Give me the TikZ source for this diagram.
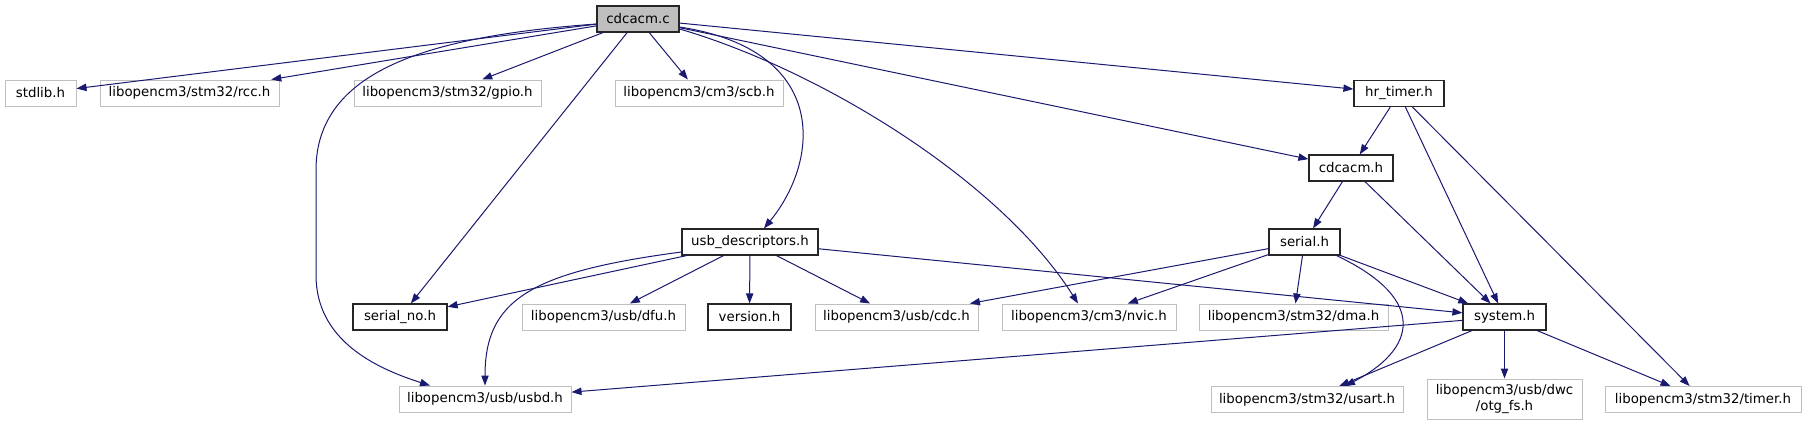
\documentclass[tikz,border=0pt]{standalone}
\usepackage{fontspec}
\setmainfont{DejaVu Sans}
\usetikzlibrary{arrows.meta,calc}
\definecolor{grey75}{HTML}{BFBFBF}
\definecolor{edgeblue}{HTML}{191970}

\begin{document}
\begin{tikzpicture}[x=0.75pt,y=-0.75pt,
font=\fontsize{10}{12.5}\selectfont,
box/.style={draw,line width=0.75pt,inner sep=0pt,minimum height=19.5pt,align=center},
ext/.style={box,draw=grey75},
doc/.style={box,draw=black!85,line width=0.9pt},
root/.style={box,draw=black!85,line width=0.9pt,fill=grey75},
bw/.style={minimum width=#1*0.75pt},
arr/.style={-{Triangle[length=7.5pt,width=5.5pt]},draw=edgeblue,line width=0.75pt}]
\useasboundingbox (0,0) rectangle (1806,425);
\node[root,bw=82] (cdcacmc) at (638,19) {cdcacm.c};
\node[ext,bw=71] (stdlib) at (40.5,93) {stdlib.h};
\node[ext,bw=179] (rcc) at (189.5,93) {libopencm3/stm32/rcc.h};
\node[ext,bw=187] (gpio) at (447.5,93) {libopencm3/stm32/gpio.h};
\node[ext,bw=168] (scb) at (699,93) {libopencm3/cm3/scb.h};
\node[doc,bw=90] (hrtimer) at (1399,93.5) {hr\_timer.h};
\node[doc,bw=84] (cdcacmh) at (1351,168) {cdcacm.h};
\node[doc,bw=71] (serial) at (1304.5,242) {serial.h};
\node[doc,bw=136] (usbdesc) at (750,242) {usb\_descriptors.h};
\node[doc,bw=94] (serialno) at (400,317) {serial\_no.h};
\node[ext,bw=163] (dfu) at (603.5,317) {libopencm3/usb/dfu.h};
\node[doc,bw=83] (version) at (749.5,317) {version.h};
\node[ext,bw=163] (cdc) at (896.5,317) {libopencm3/usb/cdc.h};
\node[ext,bw=174] (nvic) at (1089,317) {libopencm3/cm3/nvic.h};
\node[ext,bw=189] (dma) at (1293.5,317) {libopencm3/stm32/dma.h};
\node[doc,bw=83] (system) at (1504.5,317) {system.h};
\node[ext,bw=172] (usbd) at (485,399) {libopencm3/usb/usbd.h};
\node[ext,bw=192] (usart) at (1307,399.5) {libopencm3/stm32/usart.h};
\node[ext,bw=155,minimum height=30pt] (otgfs) at (1504.5,399) {libopencm3/usb/dwc\\/otg\_fs.h};
\node[ext,bw=196] (timer) at (1703,399.5) {libopencm3/stm32/timer.h};
\draw[arr] (cdcacmc)--(stdlib);
\draw[arr] (cdcacmc)--(rcc);
\draw[arr] (cdcacmc)--(gpio);
\draw[arr] (cdcacmc)--(scb);
\draw[arr] (cdcacmc)--(hrtimer);
\draw[arr] (cdcacmc)--(cdcacmh);
\draw[arr] (cdcacmc)--(serialno);
\draw[arr] ($(cdcacmc.west)+(0,5)$) .. controls (430,36) and (316,70) .. (316,170) -- (316,275) .. controls (316,340) and (375,368) .. ($(usbd.north)+(-55,0)$);
\draw[arr] ($(cdcacmc.east)+(0,8)$) .. controls (830,50) and (820,160) .. ($(usbdesc.north)+(14,0)$);
\draw[arr] ($(cdcacmc.east)+(0,10)$) .. controls (820,70) and (1000,180) .. ($(nvic.north)+(-11,0)$);
\draw[arr] (hrtimer)--(cdcacmh);
\draw[arr] (hrtimer)--(system);
\draw[arr] (hrtimer)--(timer);
\draw[arr] (cdcacmh)--(serial);
\draw[arr] (cdcacmh)--(system);
\draw[arr] (serial)--(cdc);
\draw[arr] (serial)--(nvic);
\draw[arr] (serial)--(dma);
\draw[arr] (serial)--(system);
\draw[arr] ($(serial.south east)+(-4,0)$) .. controls (1430,300) and (1415,350) .. ($(usart.north)+(38,0)$);
\draw[arr] (usbdesc)--(serialno);
\draw[arr] ($(usbdesc.west)+(0,10)$) .. controls (530,272) and (485,300) .. (usbd.north);
\draw[arr] (usbdesc)--(dfu);
\draw[arr] (usbdesc)--(version);
\draw[arr] (usbdesc)--(cdc);
\draw[arr] (usbdesc)--(system);
\draw[arr] (system)--(usbd);
\draw[arr] (system)--(usart);
\draw[arr] (system)--(otgfs);
\draw[arr] (system)--(timer);
\end{tikzpicture}
\end{document}
